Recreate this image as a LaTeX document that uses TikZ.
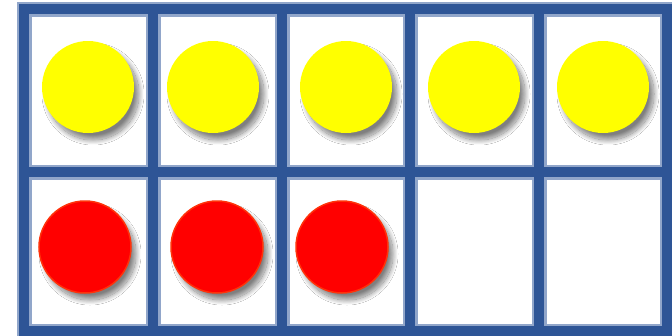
\documentclass[tikz,border=0pt]{standalone}
\usetikzlibrary{shadows.blur}
\definecolor{gridblue}{RGB}{46,85,150}
\definecolor{gridlight}{RGB}{145,166,202}
\definecolor{dotyellow}{RGB}{255,255,0}
\definecolor{dotred}{RGB}{255,0,0}
\definecolor{redrim}{RGB}{255,50,10}
\tikzset{
  gridhalo/.style={draw=gridlight, line width=15pt},
  gridline/.style={draw=gridblue, line width=10pt},
  counter/.style={circle, minimum size=92pt, inner sep=0pt,
    blur shadow={shadow xshift=5pt, shadow yshift=-7pt, shadow blur steps=20, shadow blur radius=5pt, shadow blur extra rounding=0pt, shadow opacity=50}},
  yellowdot/.style={counter, fill=dotyellow},
  reddot/.style={counter, fill=dotred, draw=redrim, line width=1.5pt},
}
\begin{document}
\begin{tikzpicture}[x=1pt,y=-1pt]
\useasboundingbox (0,0) rectangle (672,335);
\fill[white] (0,0) rectangle (672,335);
% counters
\node[yellowdot] (y1) at (88,87) {};
\node[yellowdot] (y2) at (213,87) {};
\node[yellowdot] (y3) at (346,87) {};
\node[yellowdot] (y4) at (474,87) {};
\node[yellowdot] (y5) at (603,87) {};
\node[reddot] (r1) at (85,247) {};
\node[reddot] (r2) at (217,247) {};
\node[reddot] (r3) at (342,247) {};
% grid halo
\foreach \x in {24,153,282,410,539,667} \draw[gridhalo] (\x,2) -- (\x,340);
\foreach \y in {9,172,331} \draw[gridhalo] (17,\y) -- (680,\y);
% grid lines
\foreach \x in {24,153,282,410,539,667} \draw[gridline] (\x,4) -- (\x,340);
\foreach \y in {9,172,331} \draw[gridline] (19,\y) -- (680,\y);
\end{tikzpicture}
\end{document}
